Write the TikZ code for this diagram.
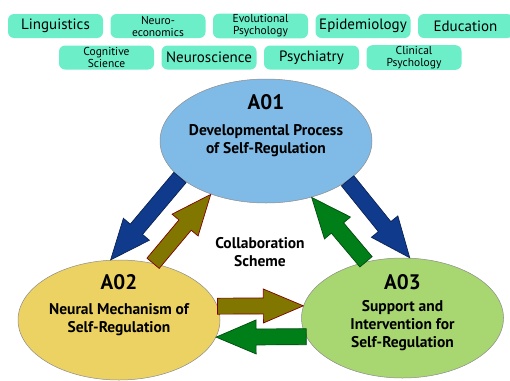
\documentclass[tikz,border=0pt]{standalone}
\usepackage{fontspec}
\setmainfont{PT Sans}
\usetikzlibrary{shapes.geometric,calc}

\definecolor{fieldgreen}{RGB}{108,238,200}
\definecolor{areablue}{RGB}{128,186,230}
\definecolor{areayellow}{RGB}{236,210,98}
\definecolor{areagreen}{RGB}{168,214,112}
\definecolor{arrowblue}{RGB}{16,58,140}
\definecolor{arrowolive}{RGB}{128,118,0}
\definecolor{arrowgreen}{RGB}{0,126,24}

\begin{document}
\begin{tikzpicture}[x=1pt, y=-1pt, node distance=102.5pt,
    field/.style={rectangle, rounded corners=6pt, fill=fieldgreen, minimum width=95pt, minimum height=24pt, inner sep=1pt, align=center, font=\fontsize{15}{16}\selectfont},
    smallfield/.style={field, font=\fontsize{11.5}{12}\selectfont},
    area/.style={ellipse, draw=black!45, line width=0.5pt, inner sep=0pt, minimum width=202pt, minimum height=120pt},
    areatitle/.style={font=\fontsize{21}{22}\bfseries\selectfont},
    areabody/.style={align=center, font=\fontsize{15.5}{18}\bfseries\selectfont},
    bigarrow/.style={line width=0.7pt, line join=miter, to path={
        let \p1=(\tikztostart), \p2=(\tikztotarget),
            \n1={atan2(\y2-\y1,\x2-\x1)}, \n2={veclen(\x2-\x1,\y2-\y1)} in
        ([shift={(\p1)},rotate=\n1]0pt,8pt) -- ([shift={(\p1)},rotate=\n1]\n2-40pt,8pt)
        -- ([shift={(\p1)},rotate=\n1]\n2-40pt,17pt) -- ([shift={(\p1)},rotate=\n1]\n2,0pt)
        -- ([shift={(\p1)},rotate=\n1]\n2-40pt,-17pt) -- ([shift={(\p1)},rotate=\n1]\n2-40pt,-8pt)
        -- ([shift={(\p1)},rotate=\n1]0pt,-8pt) -- cycle}},
    bluearrow/.style={bigarrow, fill=arrowblue, draw=arrowblue!60!black},
    olivearrow/.style={bigarrow, fill=arrowolive, draw=red!50!black},
    greenarrow/.style={bigarrow, fill=arrowgreen, draw=arrowgreen!60!black}]
    \useasboundingbox (0,0) rectangle (510,380);

    % Fields
    \node [field] (ling) at (55.5,26) {Linguistics};
    \node [smallfield, right of=ling] (neuroeco) {Neuro-\\economics};
    \node [smallfield, right of=neuroeco] (evol) {Evolutional\\Psychology};
    \node [field, right of=evol] (epid) {Epidemiology};
    \node [field, right of=epid] (edu) {Education};
    \node [smallfield] (cogsci) at (106.5,57.5) {Cognitive\\Science};
    \node [field, right of=cogsci] (neurosci) {Neuroscience};
    \node [field, right of=neurosci] (psych) {Psychiatry};
    \node [smallfield, right of=psych] (clinical) {Clinical\\Psychology};

    % Areas
    \node [area, fill=areablue, minimum width=212pt, minimum height=124pt] (a01) at (266,141) {};
    \node [area, fill=areayellow] (a02) at (119,320) {};
    \node [area, fill=areagreen] (a03) at (402.5,318) {};

    \node [areatitle] (a01title) at (266,102) {A01};
    \node [areabody] (a01body) at (266,141) {Developmental Process\\of Self-Regulation};
    \node [areatitle] (a02title) at (119,282) {A02};
    \node [areabody] (a02body) at (119,320) {Neural Mechanism of\\Self-Regulation};
    \node [areatitle] (a03title) at (402.5,282) {A03};
    \node [areabody] (a03body) at (402.5,325.5) {Support and\\Intervention for\\Self-Regulation};
    \node [areabody] (scheme) at (260,252) {Collaboration\\Scheme};

    % Arrows
    \draw [bluearrow] (a01.203) to (a02.98);
    \draw [bluearrow] (a01.334) to (a03.83);
    \draw [olivearrow] (a02.59) to (a01.224);
    \draw [greenarrow] (a03.123) to (a01.309);
    \draw [olivearrow] (a02.8) to (a03.173);
    \draw [greenarrow] (a03.191) to (a02.350);
\end{tikzpicture}
\end{document}
